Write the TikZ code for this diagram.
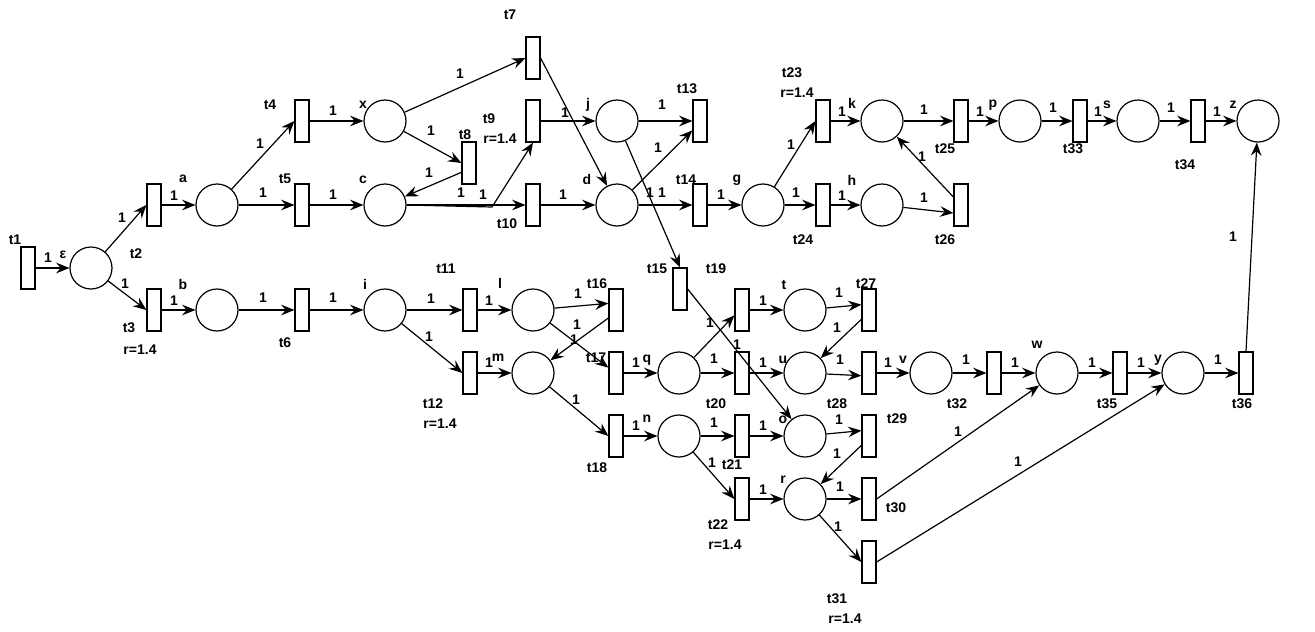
\documentclass[tikz,border=0pt]{standalone}
\usepackage{fontspec}
\setmainfont{Liberation Sans}
\usetikzlibrary{arrows.meta}

\tikzset{
  place/.style={circle,draw,line width=0.9pt,minimum size=31.5pt,inner sep=0pt},
  trans/.style={rectangle,draw,line width=0.9pt,minimum width=10.5pt,minimum height=31.5pt,inner sep=0pt},
  arrowline/.style={-{Stealth[length=10pt,width=8pt,inset=3.5pt]},line width=0.9pt},
  lbl/.style={font=\fontsize{10.5}{12}\selectfont\bfseries,inner sep=0pt},
}

\begin{document}
\begin{tikzpicture}[x=0.75pt,y=-0.75pt]
    \useasboundingbox (0,0) rectangle (1315,632);
    % places
    \foreach \n/\x/\y in {eps/91/268,a/217/205,b/217/310,x/385/121,c/385/205,i/385/310,j/617/121,d/617/205,l/533/310,m/533/373,q/679/373,n/679/436,g/763/205,k/882/121,h/882/205,p/1020/121,s/1138/121,z/1258/121,t/805/310,u/805/373,o/805/436,r/805/499,v/931/373,w/1057/373,y/1183/373} \node[place] (\n) at (\x,\y) {};
    % transitions
    \foreach \n/\x/\y in {t1/28/268,t2/154/205,t3/154/310,t4/302/121,t5/302/205,t6/302/310,t7/533/58,t8/469/163,t9/533/121,t10/533/205,t11/470/310,t12/470/373,t13/700/121,t14/700/205,t15/680/289,t16/616/310,t17/616/373,t18/616/436,t19/742/310,t20/742/373,t21/742/436,t22/742/499,t23/823/121,t24/823/205,t25/961/121,t26/961/205,t27/869/310,t28/869/373,t29/869/436,t30/869/499,t31/869/562,t32/994/373,t33/1080/121,t34/1198/121,t35/1120/373,t36/1246/373} \node[trans] (\n) at (\x,\y) {};
    \coordinate (c9) at (492,207);
    % arcs
    \draw[arrowline] (t1) -- (eps);
    \draw[arrowline] (eps) -- (t2.west);
    \draw[arrowline] (eps) -- (t3.west);
    \draw[arrowline] (t2) -- (a);
    \draw[arrowline] (t3) -- (b);
    \draw[arrowline] (a) -- (t4.west);
    \draw[arrowline] (a) -- (t5.west);
    \draw[arrowline] (b) -- (t6.west);
    \draw[arrowline] (t4) -- (x);
    \draw[arrowline] (t5) -- (c);
    \draw[arrowline] (t6) -- (i);
    \draw[arrowline] (x) -- (t7.west);
    \draw[arrowline] (x) -- (t8.west);
    \draw[arrowline] ([yshift=-7pt]t8.west) -- (c);
    \draw[arrowline] (c) -- (t10.west);
    \draw[arrowline] (c.east) -- (c9) -- (t9.south);
    \draw[arrowline] (t7.east) -- (d);
    \draw[arrowline] (t9) -- (j);
    \draw[arrowline] (t10) -- (d);
    \draw[arrowline] (j) -- (t13.west);
    \draw[arrowline] (d) -- ([yshift=-7pt]t13.west);
    \draw[arrowline] (j) -- (t15.north);
    \draw[arrowline] (d) -- (t14.west);
    \draw[arrowline] (t14) -- (g);
    \draw[arrowline] (g) -- (t23.west);
    \draw[arrowline] (g) -- (t24.west);
    \draw[arrowline] (t23) -- (k);
    \draw[arrowline] (t24) -- (h);
    \draw[arrowline] (k) -- (t25.west);
    \draw[arrowline] (h) -- ([yshift=-6pt]t26.west);
    \draw[arrowline] ([yshift=6pt]t26.west) -- (k);
    \draw[arrowline] (t25) -- (p);
    \draw[arrowline] (p) -- (t33.west);
    \draw[arrowline] (t33) -- (s);
    \draw[arrowline] (s) -- (t34.west);
    \draw[arrowline] (t34) -- (z);
    \draw[arrowline] (t36.north) -- (z);
    \draw[arrowline] (i) -- (t11.west);
    \draw[arrowline] (i) -- (t12.west);
    \draw[arrowline] (t11) -- (l);
    \draw[arrowline] (t12) -- (m);
    \draw[arrowline] (l) -- ([yshift=5pt]t16.west);
    \draw[arrowline] ([yshift=-6pt]t16.west) -- (m);
    \draw[arrowline] (l) -- ([yshift=4pt]t17.west);
    \draw[arrowline] (t17) -- (q);
    \draw[arrowline] (m) -- (t18.west);
    \draw[arrowline] (t18) -- (n);
    \draw[arrowline] (q) -- ([yshift=-4pt]t19.west);
    \draw[arrowline] (q) -- (t20.west);
    \draw[arrowline] (t15.east) -- (o);
    \draw[arrowline] (t19) -- (t);
    \draw[arrowline] (t20) -- (u);
    \draw[arrowline] (t) -- ([yshift=4pt]t27.west);
    \draw[arrowline] ([yshift=-7pt]t27.west) -- (u);
    \draw[arrowline] (u) -- ([yshift=-2pt]t28.west);
    \draw[arrowline] (t28) -- (v);
    \draw[arrowline] (n) -- (t21.west);
    \draw[arrowline] (n) -- (t22.west);
    \draw[arrowline] (t21) -- (o);
    \draw[arrowline] (o) -- ([yshift=4pt]t29.west);
    \draw[arrowline] ([yshift=-7pt]t29.west) -- (r);
    \draw[arrowline] (t22) -- (r);
    \draw[arrowline] (r) -- (t30.west);
    \draw[arrowline] (r) -- (t31.west);
    \draw[arrowline] (t30.east) -- (w);
    \draw[arrowline] (t31.east) -- (y);
    \draw[arrowline] (v) -- (t32.west);
    \draw[arrowline] (t32) -- (w);
    \draw[arrowline] (w) -- (t35.west);
    \draw[arrowline] (t35) -- (y);
    \draw[arrowline] (y) -- (t36.west);
    % names
    \foreach [count=\i] \x/\y/\txt in {15/240/t1,63/255/ε,136/254/t2,129/328/t3,140/350/r=1.4,183/179/a,183/284/b,285/179/t5,285/343/t6,270/105/t4,363/105/x,363/180/c,510/15/t7,465/135/t8,489/119/t9,500/139/r=1.4,507/224/t10,588/105/j,687/89/t13,587/179/d,686/180/t14,737/180/g,792/73/t23,797/93/r=1.4,852/103/k,803/240/t24,852/180/h,945/149/t25,945/240/t26,993/105/p,1073/149/t33,1107/105/s,1185/165/t34,1233/105/z,1242/404/t36,1158/360/y,1107/404/t35,1037/345/w,957/404/t32,903/360/v,897/419/t29,365/284/i,446/269/t11,433/404/t12,440/424/r=1.4,500/283/l,498/358/m,597/284/t16,596/358/t17,647/360/q,597/468/t18,647/419/n,657/269/t15,716/269/t19,784/285/t,866/284/t27,716/404/t20,783/360/u,837/404/t28,732/465/t21,783/420/o,718/525/t22,725/545/r=1.4,783/480/r,896/508/t30,837/599/t31,845/619/r=1.4} \node[lbl] (nm\i) at (\x,\y) {\txt};
    % weights
    \foreach [count=\i] \x/\y in {48/258,122/218,125/284,174/196,174/301,260/144,263/193,263/298,333/111,333/195,333/298,460/74,431/131,429/173,461/193,483/195,565/113,563/195,662/105,658/148,650/193,662/193,721/195,791/145,796/193,842/112,842/196,924/110,924/198,922/157,980/112,1053/108,1098/112,1171/108,1217/112,1233/237,431/299,429/337,489/301,489/363,578/294,577/325,574/340,636/363,576/400,636/426,710/323,714/359,737/345,763/301,763/363,839/293,837/328,840/360,888/363,714/423,712/463,763/426,839/420,763/490,837/454,840/487,838/527,958/432,1018/462,966/360,1015/363,1092/363,1141/363,1218/360} \node[lbl] (wt\i) at (\x,\y) {1};
\end{tikzpicture}
\end{document}
